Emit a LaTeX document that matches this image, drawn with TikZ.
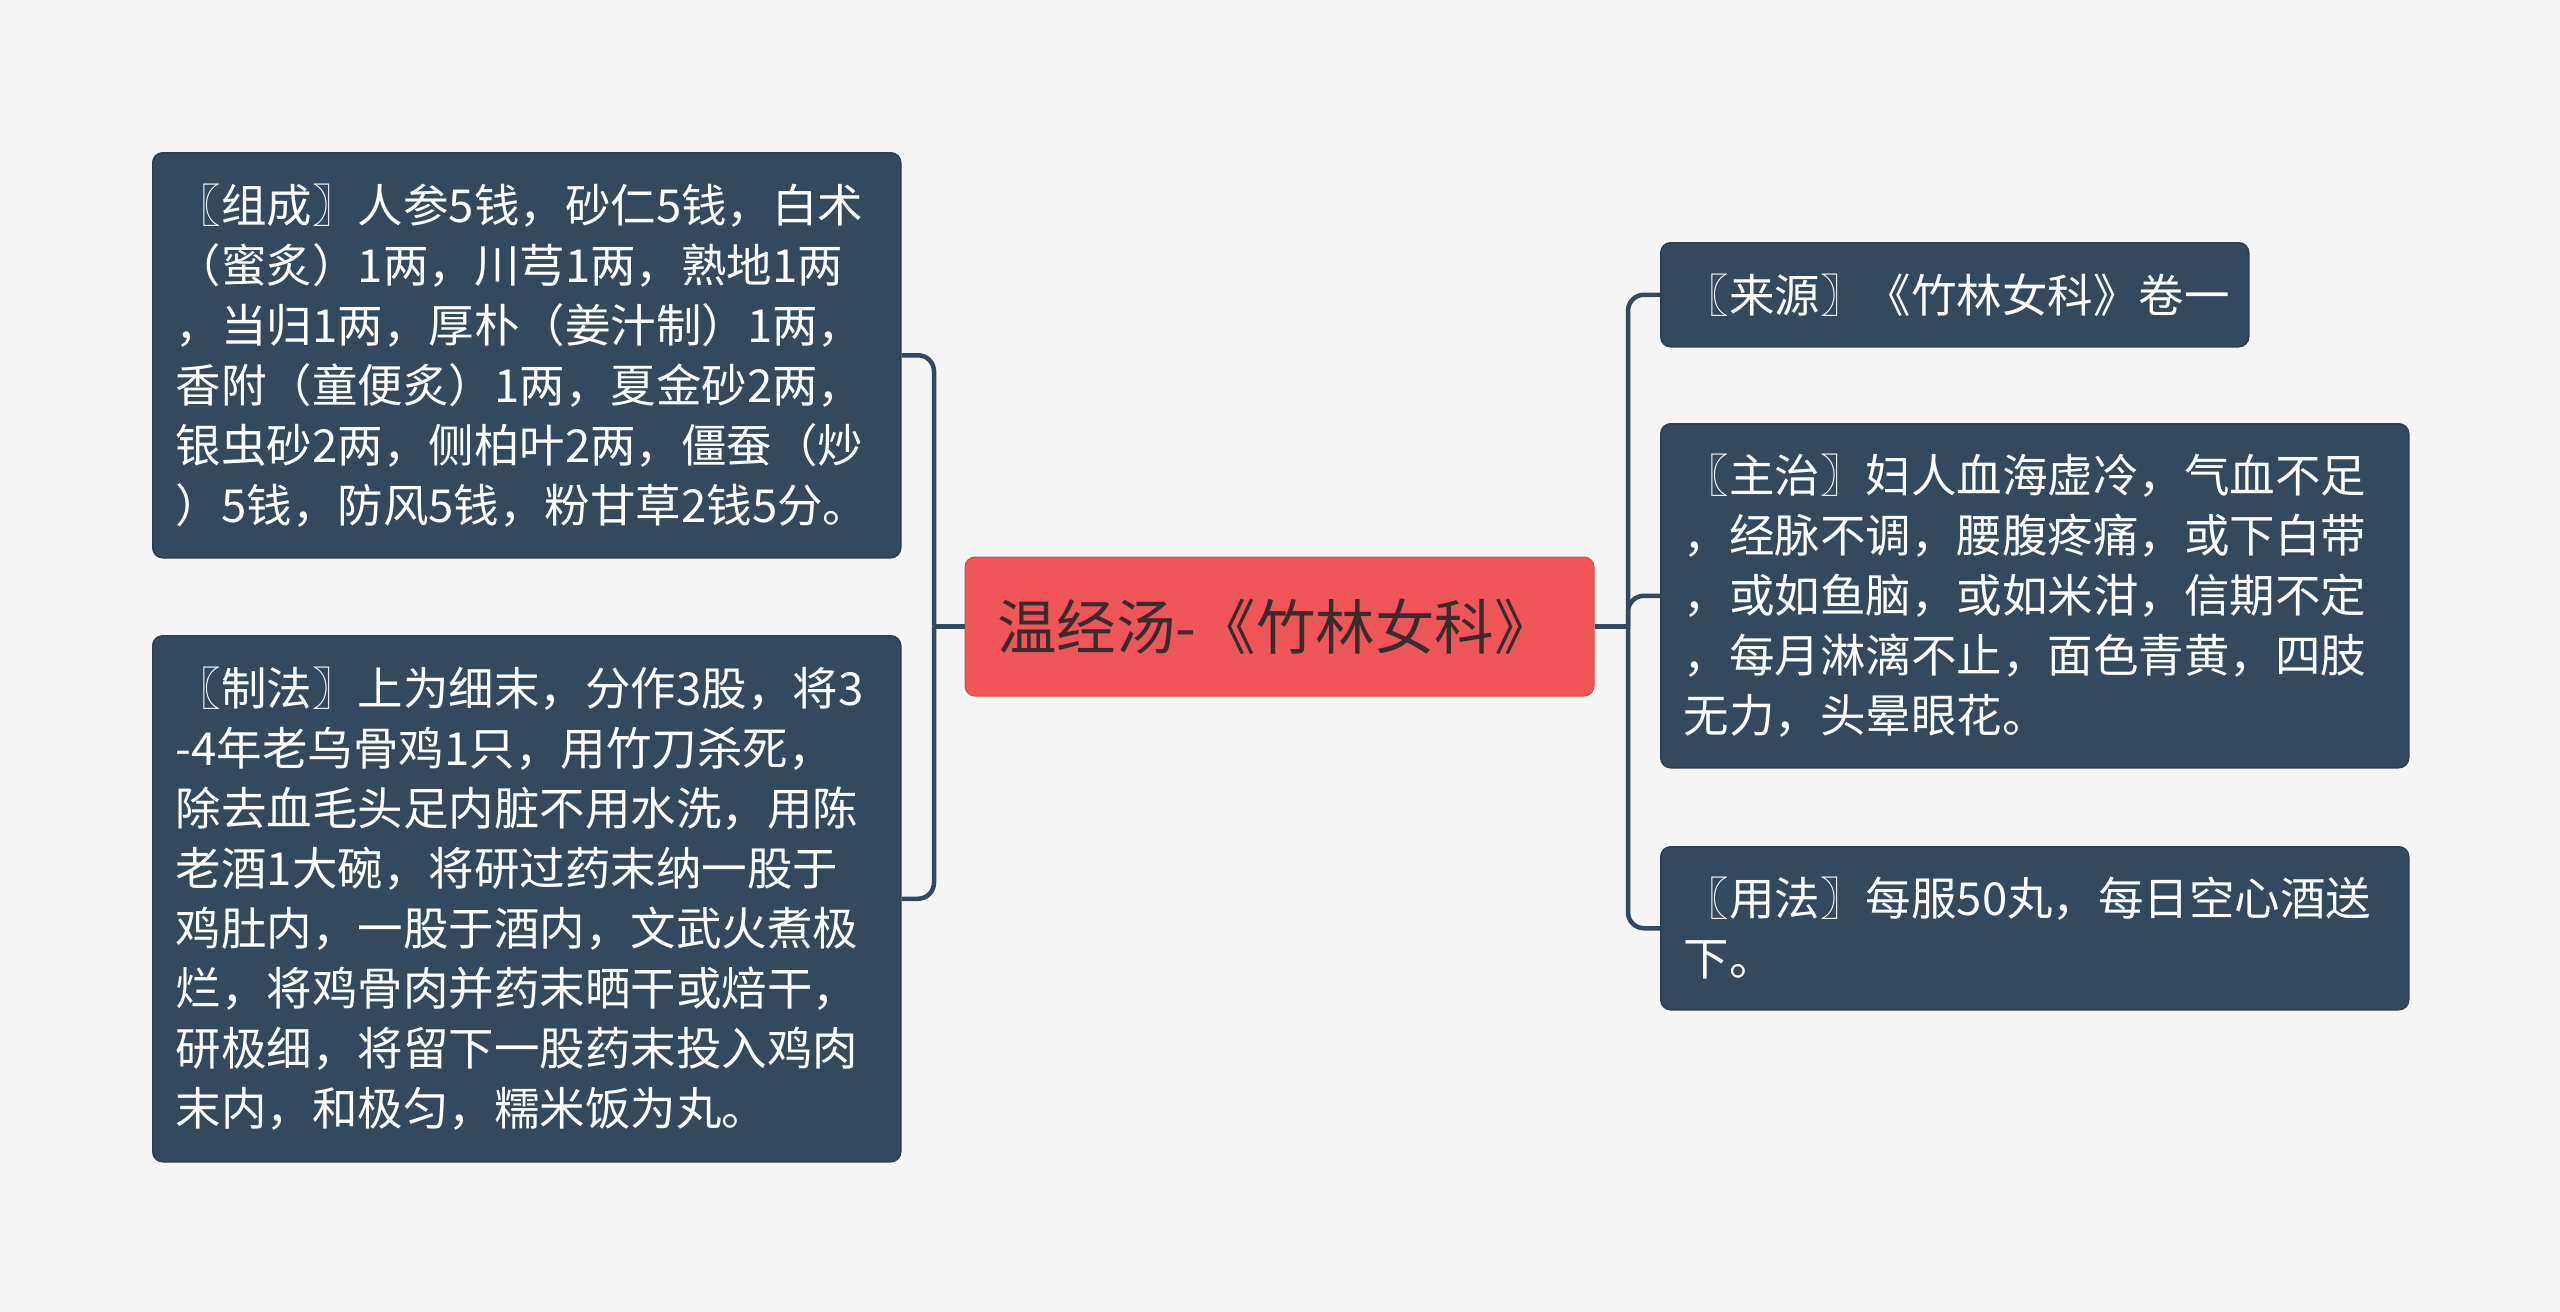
\documentclass[tikz,border=0pt]{standalone}
\usepackage{fontspec}
\newfontfamily\cjk{Noto Sans CJK SC}
\definecolor{bg}{HTML}{F5F5F5}
\definecolor{boxfill}{HTML}{34495E}
\definecolor{boxline}{HTML}{2C3E50}
\definecolor{rootfill}{HTML}{F05557}
\definecolor{roottext}{HTML}{3A2C2C}
\definecolor{conncol}{HTML}{34495E}
\begin{document}
\begin{tikzpicture}[x=1pt,y=-1pt,
  leaf/.style={draw=boxline, line width=1.5pt, fill=boxfill, rounded corners=10pt,
    text=white, align=left, anchor=north west, inner xsep=23pt, inner ysep=0pt,
    font={\cjk\fontsize{45.5pt}{60pt}\selectfont}},
  rootbox/.style={draw=rootfill!90!black, line width=1pt, fill=rootfill, rounded corners=10pt,
    text=roottext, minimum width=629pt, minimum height=139pt, inner sep=0pt,
    font={\cjk\fontsize{59.5pt}{70pt}\selectfont}},
  conn/.style={draw=conncol, line width=4.5pt, rounded corners=16pt}]
\useasboundingbox (0,0) rectangle (2560,1312);
\fill[bg] (0,0) rectangle (2560,1312);

\node[rootbox] (c) at (1279.5,626.5) {\hspace*{-8pt}温经汤-《竹林女科》};

\node[leaf, text width=702pt, minimum width=748pt, minimum height=405pt] (l1) at (152,152)
{〖组成〗人参5钱，砂仁5钱，白术\\（蜜炙）1两，川芎1两，熟地1两\\，当归1两，厚朴（姜汁制）1两，\\香附（童便炙）1两，夏金砂2两，\\银虫砂2两，侧柏叶2两，僵蚕（炒\\）5钱，防风5钱，粉甘草2钱5分。};

\node[leaf, text width=702pt, minimum width=748pt, minimum height=526pt] (l2) at (152,635)
{〖制法〗上为细末，分作3股，将3\\-4年老乌骨鸡1只，用竹刀杀死，\\除去血毛头足内脏不用水洗，用陈\\老酒1大碗，将研过药末纳一股于\\鸡肚内，一股于酒内，文武火煮极\\烂，将鸡骨肉并药末晒干或焙干，\\研极细，将留下一股药末投入鸡肉\\末内，和极匀，糯米饭为丸。};

\node[leaf, text width=542pt, minimum width=588pt, minimum height=104pt] (r1) at (1660,242)
{〖来源〗《竹林女科》卷一};

\node[leaf, text width=702pt, minimum width=748pt, minimum height=344pt] (r2) at (1660,423)
{〖主治〗妇人血海虚冷，气血不足\\，经脉不调，腰腹疼痛，或下白带\\，或如鱼脑，或如米泔，信期不定\\，每月淋漓不止，面色青黄，四肢\\无力，头晕眼花。};

\node[leaf, text width=702pt, minimum width=748pt, minimum height=163pt] (r3) at (1660,846)
{〖用法〗每服50丸，每日空心酒送\\下。};

\coordinate (jl) at (934,626.5);
\coordinate (jr) at (1628,626.5);

\draw[conn] (c.west) -- (jl);
\draw[conn] (jl) |- (l1.east);
\draw[conn] (jl) |- (l2.east);
\draw[conn] (c.east) -- (jr);
\draw[conn] (jr) |- (r1.west);
\draw[conn] (jr) |- (r2.west);
\draw[conn] (jr) |- (r3.west);
\end{tikzpicture}
\end{document}
